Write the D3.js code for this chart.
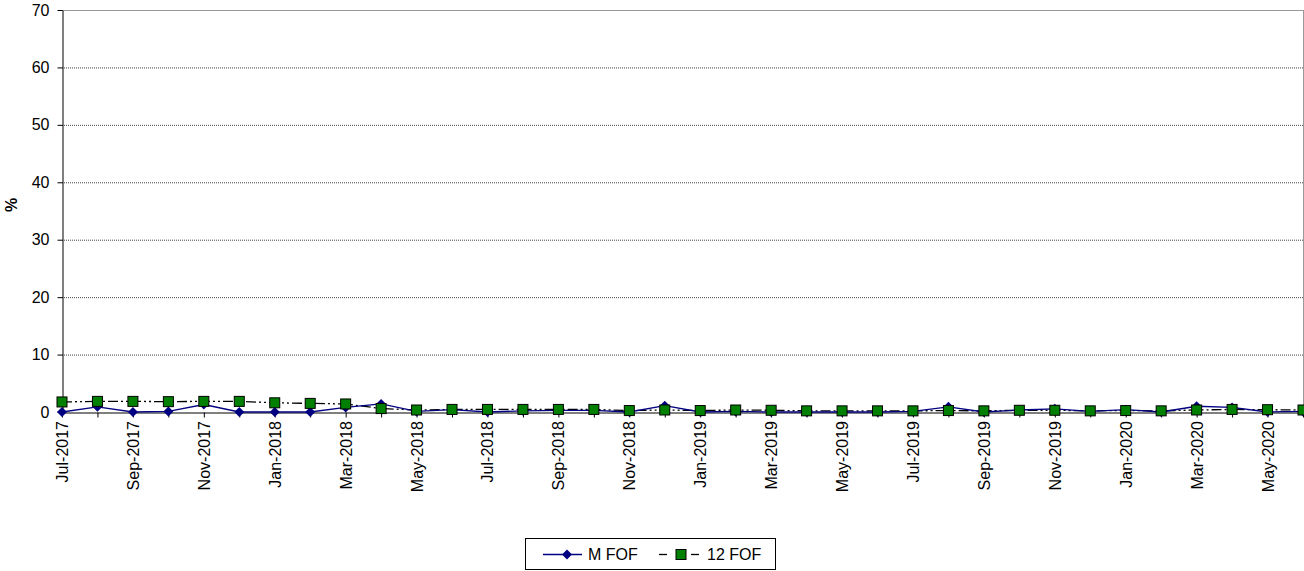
<!DOCTYPE html>
<html>
<head>
<meta charset="utf-8">
<script src="https://cdn.jsdelivr.net/npm/d3@7"></script>
<style>
  body { margin: 0; background: #fff; }
  svg { display: block; font-family: "Liberation Sans", Arial, sans-serif; }
</style>
</head>
<body>
<svg id="chart" width="1304" height="571"></svg>
<script>
// Monthly series, Jul-2017 .. Jun-2020
const months = [
  "Jul-2017","Aug-2017","Sep-2017","Oct-2017","Nov-2017","Dec-2017",
  "Jan-2018","Feb-2018","Mar-2018","Apr-2018","May-2018","Jun-2018",
  "Jul-2018","Aug-2018","Sep-2018","Oct-2018","Nov-2018","Dec-2018",
  "Jan-2019","Feb-2019","Mar-2019","Apr-2019","May-2019","Jun-2019",
  "Jul-2019","Aug-2019","Sep-2019","Oct-2019","Nov-2019","Dec-2019",
  "Jan-2020","Feb-2020","Mar-2020","Apr-2020","May-2020","Jun-2020"
];
const mFof = [
  0.0, 0.9, 0.0, 0.1, 1.3, 0.0,
  0.0, 0.0, 0.8, 1.4, 0.1, 0.4,
  0.0, 0.2, 0.3, 0.3, 0.0, 1.1,
  0.0, 0.1, 0.0, 0.0, 0.0, 0.0,
  0.1, 0.9, 0.0, 0.35, 0.55, 0.1,
  0.4, 0.0, 1.0, 0.8, 0.0, 0.1
];
const fof12 = [
  1.75, 1.85, 1.85, 1.8, 1.85, 1.85,
  1.6, 1.5, 1.4, 0.6, 0.35, 0.45,
  0.45, 0.45, 0.45, 0.45, 0.25, 0.35,
  0.25, 0.35, 0.3, 0.2, 0.2, 0.2,
  0.2, 0.25, 0.2, 0.3, 0.3, 0.2,
  0.25, 0.2, 0.35, 0.45, 0.4, 0.35
];
const yTicks = [0, 10, 20, 30, 40, 50, 60, 70];

const svg = d3.select("#chart");
const plotL = 62, plotR = 1303, plotT = 10, plotB = 412;
const fontSize = 16;

const x = d3.scalePoint().domain(months).range([plotL, plotR]);
const y = d3.scaleLinear().domain([0, 70]).range([plotB, plotT]);

// horizontal gridlines
svg.append("g").selectAll("line")
  .data(yTicks.filter(t => t > 0 && t < 70))
  .join("line")
  .attr("x1", plotL).attr("x2", plotR)
  .attr("y1", d => y(d) + 0.5).attr("y2", d => y(d) + 0.5)
  .attr("stroke", "#444").attr("stroke-width", 1)
  .attr("stroke-dasharray", "1,1");

// plot frame top/right
svg.append("line").attr("x1", plotL).attr("x2", plotR).attr("y1", plotT + 0.5).attr("y2", plotT + 0.5)
  .attr("stroke", "#999");
svg.append("line").attr("x1", plotR + 0.5).attr("x2", plotR + 0.5).attr("y1", plotT).attr("y2", plotB)
  .attr("stroke", "#999");

// y axis
const yAxis = svg.append("g")
  .attr("transform", `translate(${plotL + 0.5},0)`)
  .call(d3.axisLeft(y).tickValues(yTicks).tickSize(5).tickPadding(8).tickSizeOuter(0));
yAxis.select(".domain").attr("stroke", "#000");
yAxis.selectAll("text").attr("font-size", fontSize).attr("fill", "#000")
  .attr("font-family", "Liberation Sans, Arial, sans-serif");

// x axis (a tick every month, a label every other month)
const xAxis = svg.append("g")
  .attr("transform", `translate(0,${plotB + 0.5})`)
  .call(d3.axisBottom(x).tickSize(5).tickSizeOuter(0).tickFormat(""));
xAxis.select(".domain").attr("stroke", "#000");
xAxis.selectAll("text").remove();

svg.append("g").selectAll("text")
  .data(months.filter((m, i) => i % 2 === 0))
  .join("text")
  .attr("transform", d => `translate(${x(d) + 6},${plotB + 9}) rotate(-90)`)
  .attr("text-anchor", "end")
  .attr("font-size", fontSize)
  .text(d => d);

// y label
svg.append("text")
  .attr("transform", `translate(17,${205}) rotate(-90)`)
  .attr("text-anchor", "middle")
  .attr("font-size", fontSize).attr("font-weight", "bold")
  .text("%");

const line = d3.line().x((d, i) => x(months[i])).y(d => y(d));

// 12 FOF: black dash-dot-dot line with green squares
svg.append("path").datum(fof12)
  .attr("d", line).attr("fill", "none")
  .attr("stroke", "#000").attr("stroke-width", 1.3)
  .attr("stroke-dasharray", "10,3,2,3,2,3");

// M FOF: navy line with diamonds
svg.append("path").datum(mFof)
  .attr("d", line).attr("fill", "none")
  .attr("stroke", "#000080").attr("stroke-width", 1.3);

const diamond = "M0,-5L5,0L0,5L-5,0Z";
svg.append("g").selectAll("path")
  .data(mFof)
  .join("path")
  .attr("d", diamond)
  .attr("transform", (d, i) => `translate(${x(months[i])},${y(d)})`)
  .attr("fill", "#000080");

svg.append("g").selectAll("rect")
  .data(fof12)
  .join("rect")
  .attr("x", (d, i) => x(months[i]) - 5)
  .attr("y", d => y(d) - 5)
  .attr("width", 10).attr("height", 10)
  .attr("fill", "#008000").attr("stroke", "#000").attr("stroke-width", 1);

// legend
const lg = svg.append("g");
lg.append("rect").attr("x", 525.5).attr("y", 538.5).attr("width", 250).attr("height", 31)
  .attr("fill", "#fff").attr("stroke", "#000");
lg.append("line").attr("x1", 543).attr("x2", 582).attr("y1", 554.5).attr("y2", 554.5)
  .attr("stroke", "#000080").attr("stroke-width", 1.3);
lg.append("path").attr("d", diamond)
  .attr("transform", "translate(567,554.5)").attr("fill", "#000080");
lg.append("text").attr("x", 588).attr("y", 560).attr("font-size", fontSize).text("M FOF");
lg.append("line").attr("x1", 659).attr("x2", 667).attr("y1", 554.5).attr("y2", 554.5)
  .attr("stroke", "#000").attr("stroke-width", 1.3);
lg.append("line").attr("x1", 691).attr("x2", 699).attr("y1", 554.5).attr("y2", 554.5)
  .attr("stroke", "#000").attr("stroke-width", 1.3);
lg.append("rect").attr("x", 676).attr("y", 549.5).attr("width", 10).attr("height", 10)
  .attr("fill", "#008000").attr("stroke", "#000");
lg.append("text").attr("x", 707).attr("y", 560).attr("font-size", fontSize).text("12 FOF");
</script>
</body>
</html>
